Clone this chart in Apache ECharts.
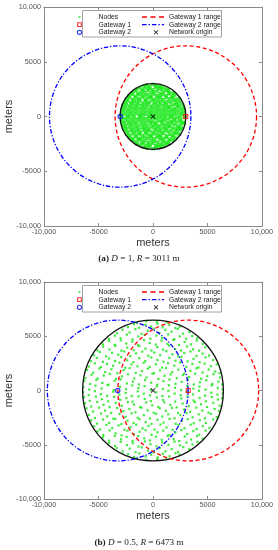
<!DOCTYPE html>
<html>
<head>
<meta charset="utf-8">
<script src="https://cdn.jsdelivr.net/npm/echarts@6/dist/echarts.min.js"></script>
<style>
html,body{margin:0;padding:0;background:#fff;}
#chart{width:278px;height:550px;}
</style>
</head>
<body>
<div id="chart"></div>
<script>
// ---------- DATA ----------
const tickValues = [-10000, -5000, 0, 5000, 10000];
const tickLabels = ['-10,000', '-5000', '0', '5000', '10,000'];

const panelLetters = ['a', 'b'];
const panelD = ['1', '0.5'];
const panelR = [3011, 6473];          // deployment radius R (m)
const gatewayRange = [6473, 6473];    // gateway range radius (m)
const gateway1 = [[3011, 0], [3236, 0]];
const gateway2 = [[-3011, 0], [-3236, 0]];
const origin = [[0, 0], [0, 0]];

// nodes of panel (a), D = 1, R = 3011 m
const nodesA = [
[-820,2790],[-560,2880],[-300,2720],[-20,2930],[250,2810],[540,2760],[800,2700],
[-1480,2500],[-1190,2620],[-900,2470],[-640,2660],[-330,2540],[-60,2440],[230,2680],[520,2560],[790,2480],[1100,2600],[1400,2450],
[-1900,2180],[-1610,2300],[-1350,2120],[-1040,2340],[-760,2210],[-480,2380],[-190,2150],[90,2270],[380,2330],[660,2110],[950,2250],[1230,2360],[1530,2190],[1850,2140],
[-2200,1900],[-1920,2030],[-1650,1860],[-1360,1980],[-1080,2060],[-800,1880],[-520,1990],[-240,1840],[40,2050],[310,1930],[590,1870],[870,2010],[1160,1900],[1440,2070],[1730,1850],[2010,1960],
[-2430,1600],[-2150,1720],[-1870,1560],[-1580,1690],[-1300,1610],[-1010,1770],[-730,1540],[-460,1680],[-170,1740],[110,1580],[400,1650],[680,1710],[960,1550],[1240,1760],[1530,1620],[1820,1700],[2120,1570],[2400,1640],
[-2600,1300],[-2330,1420],[-2040,1260],[-1760,1390],[-1490,1330],[-1200,1460],[-930,1240],[-640,1370],[-360,1300],[-90,1440],[190,1280],[470,1350],[750,1410],[1040,1250],[1310,1380],[1600,1310],[1880,1450],[2160,1270],[2450,1340],
[-2740,1000],[-2450,1110],[-2170,960],[-1890,1090],[-1600,1030],[-1320,1140],[-1040,980],[-760,1060],[-480,1120],[-200,950],[80,1070],[360,1010],[650,1130],[930,990],[1210,1080],[1500,940],[1780,1050],[2060,1120],[2350,1000],[2650,1060],
[-2830,700],[-2540,800],[-2260,660],[-1970,790],[-1700,740],[-1410,850],[-1130,690],[-850,760],[-570,820],[-290,650],[-10,780],[270,710],[560,840],[840,670],[1120,760],[1400,800],[1690,650],[1970,730],[2250,860],[2540,690],[2810,760],
[-2880,400],[-2600,510],[-2310,360],[-2030,480],[-1750,420],[-1460,540],[-1180,380],[-900,450],[-610,500],[-330,350],[-50,470],[230,410],[520,530],[800,370],[1090,460],[1370,500],[1650,390],[1940,440],[2220,520],[2510,360],[2800,470],
[-2920,100],[-2640,210],[-2350,60],[-2070,180],[-1790,120],[-1500,240],[-1220,80],[-940,160],[-660,200],[-370,50],[-90,170],[190,110],[480,230],[760,70],[1040,150],[1330,190],[1610,90],[1900,140],[2180,220],[2470,60],[2760,180],
[-2860,-100],[-2580,-200],[-2290,-60],[-2010,-180],[-1730,-130],[-1450,-230],[-1160,-70],[-880,-160],[-600,-210],[-320,-50],[-30,-140],[250,-190],[530,-80],[820,-220],[1100,-110],[1390,-170],[1670,-60],[1960,-200],[2240,-120],[2530,-240],[2880,-90],
[-2900,-410],[-2620,-520],[-2330,-370],[-2050,-490],[-1770,-430],[-1490,-540],[-1200,-360],[-920,-470],[-640,-510],[-350,-390],[-70,-460],[210,-540],[490,-400],[780,-480],[1060,-350],[1340,-520],[1630,-440],[1910,-380],[2190,-500],[2480,-420],[2760,-530],
[-2790,-710],[-2510,-820],[-2230,-660],[-1950,-780],[-1660,-730],[-1380,-860],[-1100,-680],[-820,-770],[-540,-830],[-250,-650],[20,-790],[300,-720],[590,-850],[870,-690],[1150,-760],[1430,-810],[1720,-660],[2000,-740],[2280,-870],[2560,-700],[2850,-620],
[-2700,-1010],[-2420,-1120],[-2140,-970],[-1850,-1090],[-1570,-1040],[-1290,-1150],[-1000,-990],[-720,-1070],[-440,-1120],[-160,-960],[120,-1080],[400,-1020],[680,-1140],[970,-1000],[1250,-1090],[1530,-950],[1820,-1060],[2100,-1130],[2380,-1000],[2660,-1050],
[-2580,-1290],[-2300,-1410],[-2010,-1260],[-1730,-1390],[-1450,-1320],[-1170,-1460],[-880,-1250],[-600,-1370],[-320,-1300],[-40,-1440],[240,-1280],[520,-1350],[800,-1420],[1090,-1260],[1370,-1380],[1650,-1310],[1940,-1440],[2220,-1280],[2500,-1180],
[-2400,-1610],[-2120,-1720],[-1840,-1570],[-1560,-1690],[-1270,-1600],[-990,-1760],[-710,-1550],[-430,-1680],[-150,-1740],[130,-1590],[420,-1660],[700,-1720],[980,-1550],[1260,-1770],[1550,-1630],[1840,-1700],[2130,-1570],[2420,-1590],
[-2180,-1890],[-1900,-2020],[-1620,-1870],[-1330,-1990],[-1050,-2060],[-770,-1880],[-490,-2000],[-210,-1850],[70,-2040],[350,-1920],[630,-1880],[920,-2010],[1200,-1910],[1480,-2070],[1770,-1860],[2060,-1950],
[-1880,-2170],[-1590,-2290],[-1310,-2130],[-1020,-2340],[-740,-2200],[-450,-2370],[-170,-2160],[120,-2280],[410,-2330],[690,-2120],[980,-2260],[1260,-2350],[1560,-2180],[1860,-2150],
[-1450,-2490],[-1160,-2610],[-880,-2460],[-600,-2650],[-320,-2530],[-40,-2440],[250,-2670],[540,-2550],[820,-2480],[1120,-2590],[1410,-2460],
[-800,-2780],[-540,-2870],[-280,-2720],[0,-2940],[280,-2800],[550,-2750],[820,-2700]
];

// nodes of panel (b), D = 0.5, R = 6473 m
const nodesB = [
[-1500,6230],[-620,6380],[350,6300],[1240,6270],
[-2300,5850],[-1750,6100],[-1280,5780],[-700,6050],[-180,5900],[420,6150],[880,5820],[1500,6040],[2050,5760],[2450,5880],
[-3300,5280],[-2800,5600],[-2150,5350],[-1620,5650],[-1050,5230],[-480,5500],[60,5700],[590,5310],[1130,5580],[1700,5420],[2280,5680],[2760,5240],[3350,5400],
[-4050,4750],[-3500,5050],[-2980,4820],[-2400,5150],[-1880,4700],[-1350,4980],[-760,5120],[-250,4780],[310,5060],[820,4850],[1400,5180],[1950,4720],[2460,4990],[3050,4760],[3600,5020],[4050,4800],
[-4600,4250],[-4050,4560],[-3520,4200],[-2950,4620],[-2450,4330],[-1900,4500],[-1380,4180],[-820,4640],[-300,4380],[250,4230],[780,4590],[1320,4300],[1870,4660],[2380,4200],[2900,4480],[3480,4250],[4020,4600],[4560,4300],
[-5100,3700],[-4580,4050],[-4000,3780],[-3450,4120],[-2900,3660],[-2360,3950],[-1780,3720],[-1250,4100],[-700,3850],[-150,3680],[390,4010],[920,3760],[1480,4140],[2030,3820],[2580,3690],[3120,4060],[3680,3800],[4230,3670],[4800,3980],
[-5420,3250],[-4880,3550],[-4300,3150],[-3760,3480],[-3180,3300],[-2640,3610],[-2090,3170],[-1560,3420],[-980,3580],[-430,3200],[120,3500],[660,3270],[1220,3620],[1780,3340],[2310,3150],[2870,3450],[3440,3600],[3990,3180],[4550,3400],[5150,3220],
[-5700,2700],[-5150,3000],[-4600,2640],[-4030,2950],[-3480,2720],[-2920,3080],[-2360,2780],[-1800,2620],[-1260,2980],[-700,2700],[-160,3050],[400,2810],[950,2650],[1500,3000],[2060,2750],[2620,3100],[3170,2680],[3720,2920],[4280,2620],[4830,3060],[5520,2800],
[-5900,2200],[-5350,2500],[-4780,2150],[-4220,2460],[-3660,2280],[-3080,2570],[-2540,2100],[-1980,2400],[-1420,2230],[-860,2550],[-300,2180],[270,2420],[830,2110],[1380,2520],[1950,2290],[2490,2580],[3060,2170],[3610,2440],[4170,2120],[4740,2480],[5300,2250],[5850,2400],
[-6050,1900],[-5480,1640],[-4930,2030],[-4390,1700],[-3820,1950],[-3270,1580],[-2700,1880],[-2150,2060],[-1590,1620],[-1030,1790],[-470,2010],[90,1600],[640,1850],[1200,2070],[1760,1680],[2320,1920],[2870,1570],[3430,1820],[3990,2050],[4550,1660],[5110,1930],[5700,1750],[6100,1600],
[-6200,1150],[-5640,1450],[-5080,1100],[-4510,1380],[-3960,1530],[-3400,1070],[-2840,1300],[-2290,1500],[-1720,1120],[-1160,1400],[-600,1200],[-50,1540],[500,1060],[1060,1350],[1620,1480],[2190,1130],[2740,1420],[3300,1250],[3860,1550],[4420,1080],[4980,1320],[5550,1500],[6150,1200],
[-6300,900],[-5770,600],[-5200,980],[-4650,700],[-4080,540],[-3520,880],[-2960,1020],[-2400,650],[-1850,820],[-1290,560],[-730,960],[-170,720],[390,530],[950,870],[1510,1010],[2070,620],[2630,800],[3190,990],[3750,560],[4310,760],[4880,940],[5440,600],[6000,820],[6350,550],
[-6400,300],[-5850,80],[-5280,450],[-4720,180],[-4160,500],[-3590,40],[-3030,330],[-2470,120],[-1900,470],[-1340,220],[-780,400],[-220,60],[340,380],[900,140],[1460,490],[2020,250],[2580,30],[3140,420],[3700,170],[4260,360],[4820,90],[5380,470],[5940,230],[6380,100],
[-6420,-150],[-5900,-420],[-5330,-60],[-4780,-330],[-4200,-490],[-3650,-110],[-3080,-380],[-2510,-230],[-1960,-500],[-1400,-80],[-840,-300],[-270,-450],[290,-170],[860,-510],[1410,-40],[1980,-280],[2540,-430],[3100,-120],[3660,-360],[4220,-20],[4780,-470],[5340,-200],[5900,-380],[6400,-260],
[-6330,-620],[-5800,-950],[-5240,-560],[-4690,-800],[-4110,-1000],[-3560,-590],[-3000,-860],[-2440,-700],[-1880,-1030],[-1320,-540],[-760,-780],[-200,-980],[360,-640],[920,-870],[1480,-560],[2040,-1020],[2600,-730],[3160,-550],[3720,-920],[4280,-680],[4850,-1000],[5410,-590],[5960,-830],[6340,-700],
[-6230,-1180],[-5670,-1480],[-5110,-1060],[-4540,-1320],[-3980,-1530],[-3420,-1150],[-2870,-1410],[-2310,-1070],[-1740,-1290],[-1180,-1540],[-620,-1100],[-70,-1370],[480,-1500],[1040,-1090],[1600,-1330],[2170,-1560],[2720,-1200],[3280,-1440],[3840,-1060],[4400,-1280],[4960,-1520],[5530,-1130],[6120,-1400],
[-6080,-1650],[-5500,-1940],[-4950,-1580],[-4400,-1850],[-3840,-2060],[-3290,-1620],[-2720,-1900],[-2170,-1700],[-1610,-2000],[-1050,-1570],[-490,-1820],[70,-2050],[620,-1640],[1180,-1880],[1740,-1600],[2300,-2070],[2850,-1760],[3410,-1960],[3970,-1580],[4530,-1840],[5090,-2040],[5650,-1700],[6050,-1900],
[-5880,-2250],[-5330,-2540],[-4760,-2120],[-4200,-2380],[-3640,-2590],[-3070,-2160],[-2520,-2430],[-1960,-2100],[-1400,-2510],[-840,-2270],[-280,-2580],[290,-2140],[850,-2400],[1400,-2190],[1970,-2560],[2510,-2280],[3080,-2090],[3630,-2470],[4190,-2200],[4760,-2560],[5310,-2150],[5850,-2450],
[-5680,-2750],[-5130,-3050],[-4580,-2680],[-4010,-2980],[-3460,-2630],[-2900,-3100],[-2340,-2790],[-1780,-3000],[-1240,-2650],[-680,-2920],[-140,-3080],[420,-2700],[970,-2960],[1520,-2620],[2080,-3060],[2640,-2800],[3190,-2640],[3740,-3020],[4300,-2750],[4850,-2990],[5520,-2660],
[-5400,-3300],[-4860,-3580],[-4280,-3170],[-3740,-3460],[-3160,-3220],[-2620,-3620],[-2070,-3380],[-1540,-3150],[-960,-3500],[-410,-3260],[140,-3600],[680,-3140],[1240,-3410],[1800,-3630],[2330,-3200],[2890,-3480],[3460,-3150],[4010,-3550],[4570,-3290],[5180,-3450],
[-5080,-3760],[-4560,-4100],[-3980,-3680],[-3430,-3950],[-2880,-4140],[-2340,-3700],[-1760,-4020],[-1230,-3800],[-680,-3660],[-130,-4080],[410,-3850],[940,-3700],[1500,-4120],[2050,-3880],[2600,-3650],[3140,-4010],[3700,-3740],[4250,-4080],[4820,-3700],
[-4580,-4300],[-4030,-4620],[-3500,-4180],[-2930,-4500],[-2420,-4280],[-1880,-4650],[-1360,-4200],[-800,-4420],[-280,-4600],[270,-4250],[800,-4550],[1340,-4180],[1890,-4480],[2400,-4660],[2920,-4240],[3500,-4520],[4040,-4200],[4560,-4450],
[-4030,-4820],[-3480,-5100],[-2960,-4730],[-2380,-5030],[-1860,-4860],[-1330,-5170],[-740,-4700],[-230,-4950],[330,-5140],[840,-4790],[1420,-5000],[1970,-4710],[2480,-5060],[3070,-4800],[3620,-4980],[4080,-4740],
[-3320,-5300],[-2780,-5620],[-2140,-5360],[-1600,-5680],[-1030,-5250],[-460,-5540],[80,-5700],[610,-5300],[1150,-5600],[1720,-5400],[2300,-5660],[2780,-5220],[3330,-5380],
[-2280,-5870],[-1730,-6120],[-1260,-5800],[-680,-6080],[-160,-5920],[440,-6170],[900,-5840],[1520,-6060],[2060,-5780],[2430,-5910],
[-1480,-6250],[-600,-6400],[380,-6320],[1220,-6280]
];
const nodesByPanel = [nodesA, nodesB];

// ---------- STYLE ----------
const FONT = 'Liberation Sans';
const SERIF = 'Liberation Serif';
const GREEN = '#12e612', RED = '#ff0000', BLUE = '#0000ff', BLACK = '#000000';
const AXIS_COLOR = '#8a8a8a';
const grids = [
  {left: 44, top: 7, width: 218, height: 219, outerBoundsMode: 'none', containLabel: false},
  {left: 44, top: 282, width: 218, height: 217, outerBoundsMode: 'none', containLabel: false}
];
const panelOffset = [0, 275];

const SYM_SQUARE = 'path://M0,0h10v10h-10z M2.2,2.2v5.6h5.6v-5.6z';
const SYM_RING = 'path://M5,0A5,5,0,1,1,5,10A5,5,0,1,1,5,0Z M5,2.1A2.9,2.9,0,1,0,5,7.9A2.9,2.9,0,1,0,5,2.1Z';
const SYM_X = 'path://M0,1.5L1.5,0L5,3.5L8.5,0L10,1.5L6.5,5L10,8.5L8.5,10L5,6.5L1.5,10L0,8.5L3.5,5Z';

const ICON_NODE = 'path://M0,0M7,7M2.6,2.6h1.8v1.8h-1.8z';
const ICON_SQUARE = 'path://M0,0M7,7M1.1,1.1h4.8v4.8h-4.8z M2.2,2.2v2.6h2.6v-2.6z';
const ICON_RING = 'path://M0,0M7,7M3.5,0.85A2.65,2.65,0,1,1,3.5,6.15A2.65,2.65,0,1,1,3.5,0.85Z M3.5,1.95A1.55,1.55,0,1,0,3.5,5.05A1.55,1.55,0,1,0,3.5,1.95Z';
const ICON_DASH = 'path://M0,0M22,7M0,2.8h5v1.4h-5zM8.5,2.8h5v1.4h-5zM17,2.8h5v1.4h-5z';
const ICON_DASHDOT = 'path://M0,0M22,7M0,2.8h4.5v1.4h-4.5zM6.5,2.8h1.4v1.4h-1.4zM9.9,2.8h4.5v1.4h-4.5zM16.4,2.8h1.4v1.4h-1.4zM19.8,2.8h2.2v1.4h-2.2z';
const ICON_X = 'path://M0,0M22,7M11.75,1.93L12.43,1.25L14,2.83L15.58,1.25L16.25,1.93L14.68,3.5L16.25,5.08L15.58,5.75L14,4.18L12.43,5.75L11.75,5.08L13.33,3.5Z';

function tickFmt(v) {
  const i = tickValues.indexOf(v);
  return i >= 0 ? tickLabels[i] : '';
}

const xAxes = [], yAxes = [], series = [], legends = [], graphics = [];

grids.forEach(function (g, p) {
  const base = {
    gridIndex: p, type: 'value', min: -10000, max: 10000, interval: 5000,
    splitLine: {show: false},
    axisLine: {show: true, onZero: false, lineStyle: {color: AXIS_COLOR, width: 1}},
    axisTick: {show: true, inside: true, length: 3, lineStyle: {color: AXIS_COLOR}}
  };
  const lbl = {show: true, fontSize: 7.3, color: '#555', fontFamily: FONT, formatter: tickFmt};
  xAxes.push(Object.assign({}, base, {
    position: 'bottom', axisLabel: Object.assign({}, lbl, {margin: 2.5}),
    name: 'meters', nameLocation: 'middle', nameGap: 11.5,
    nameTextStyle: {fontSize: 11, color: '#333', fontFamily: FONT, verticalAlign: 'top'}
  }));
  xAxes.push(Object.assign({}, base, {position: 'top', axisLabel: {show: false}}));
  yAxes.push(Object.assign({}, base, {
    position: 'left', axisLabel: Object.assign({}, lbl, {margin: 3}),
    name: 'meters', nameLocation: 'middle', nameGap: 30, nameMoveOverlap: false,
    nameTextStyle: {fontSize: 11, color: '#333', fontFamily: FONT}
  }));
  yAxes.push(Object.assign({}, base, {position: 'right', axisLabel: {show: false}}));

  const xi = p * 2, yi = p * 2;
  series.push({
    name: 'Nodes', type: 'scatter', xAxisIndex: xi, yAxisIndex: yi,
    symbol: 'rect', symbolSize: p === 0 ? 3.5 : 2.2, z: 2,
    itemStyle: {color: GREEN}, data: nodesByPanel[p]
  });
  function circleSeries(name, data, color, dash, z) {
    return {
      name: name, type: 'custom', xAxisIndex: xi, yAxisIndex: yi, z: z,
      itemStyle: {color: color}, data: data,
      renderItem: function (params, api) {
        const c = api.coord([api.value(0), api.value(1)]);
        const r = api.size([api.value(2), api.value(2)]);
        const st = {fill: 'none', stroke: color, lineWidth: 1.3};
        if (dash) st.lineDash = dash;
        return {
          type: 'circle',
          shape: {cx: c[0], cy: c[1], r: (r[0] + r[1]) / 2},
          style: st
        };
      }
    };
  }
  series.push(circleSeries('Deployment area', [[origin[p][0], origin[p][1], panelR[p]]], '#111111', null, 3));
  series.push(circleSeries('Gateway 1 range', [[gateway1[p][0], gateway1[p][1], gatewayRange[p]]], RED, [4, 2.6], 3));
  series.push(circleSeries('Gateway 2 range', [[gateway2[p][0], gateway2[p][1], gatewayRange[p]]], BLUE, [4.5, 1.8, 1.2, 1.8], 3));
  series.push({
    name: 'Gateway 1', type: 'scatter', xAxisIndex: xi, yAxisIndex: yi, z: 4,
    symbol: SYM_SQUARE, symbolSize: 5, itemStyle: {color: RED}, data: [gateway1[p]]
  });
  series.push({
    name: 'Gateway 2', type: 'scatter', xAxisIndex: xi, yAxisIndex: yi, z: 4,
    symbol: SYM_RING, symbolSize: 5.5, itemStyle: {color: BLUE}, data: [gateway2[p]]
  });
  series.push({
    name: 'Network origin', type: 'scatter', xAxisIndex: xi, yAxisIndex: yi, z: 4,
    symbol: SYM_X, symbolSize: 5, itemStyle: {color: BLACK}, data: [origin[p]]
  });

  const off = panelOffset[p];
  const legBase = {
    orient: 'vertical', top: 13.5 + off, itemHeight: 7, itemGap: 0.65, padding: 0,
    selectedMode: false, z: 6,
    textStyle: {fontSize: 6.8, color: '#222', fontFamily: FONT, lineHeight: 7}
  };
  legends.push(Object.assign({}, legBase, {
    left: 76, itemWidth: 28,
    data: [{name: 'Nodes', icon: ICON_NODE}, {name: 'Gateway 1', icon: ICON_SQUARE}, {name: 'Gateway 2', icon: ICON_RING}]
  }));
  legends.push(Object.assign({}, legBase, {
    left: 142, itemWidth: 22,
    data: [{name: 'Gateway 1 range', icon: ICON_DASH}, {name: 'Gateway 2 range', icon: ICON_DASHDOT}, {name: 'Network origin', icon: ICON_X}]
  }));
  graphics.push({
    type: 'rect', z: 5, silent: true,
    shape: {x: 82.5, y: 10.5 + off, width: 139, height: 26.5},
    style: {fill: '#ffffff', stroke: '#8a8a8a', lineWidth: 0.8}
  });
  const capY = p === 0 ? 258.5 : 543;
  graphics.push({
    type: 'text', z: 5, silent: true, x: 139, y: capY,
    style: {
      text: '{b|(' + panelLetters[p] + ')} {i|D} = ' + panelD[p] + ', {i|R} = ' + panelR[p] + ' m',
      fontSize: 9.2, fontFamily: SERIF, fill: '#222', align: 'center', verticalAlign: 'middle',
      rich: {
        b: {fontSize: 9.2, fontFamily: SERIF, fontWeight: 'bold', fill: '#222'},
        i: {fontSize: 9.2, fontFamily: SERIF, fontStyle: 'italic', fill: '#222'}
      }
    }
  });
});

const chart = echarts.init(document.getElementById('chart'), null, {renderer: 'canvas'});
chart.setOption({
  animation: false,
  backgroundColor: '#ffffff',
  textStyle: {fontFamily: FONT},
  grid: grids,
  xAxis: xAxes,
  yAxis: yAxes,
  legend: legends,
  graphic: graphics,
  series: series
});
</script>
</body>
</html>
